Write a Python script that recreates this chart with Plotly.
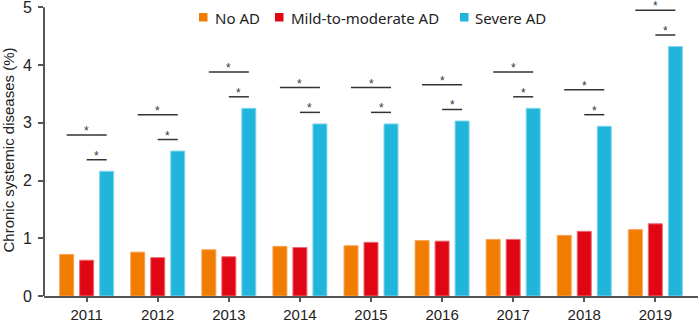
import plotly.graph_objects as go

years = ["2011", "2012", "2013", "2014", "2015", "2016", "2017", "2018", "2019"]
no_ad = [0.72, 0.76, 0.80, 0.86, 0.87, 0.96, 0.98, 1.05, 1.15]
mild_ad = [0.62, 0.665, 0.68, 0.84, 0.93, 0.95, 0.98, 1.12, 1.25]
severe_ad = [2.16, 2.51, 3.25, 2.98, 2.98, 3.03, 3.25, 2.94, 4.32]
y_ticks = [0, 1, 2, 3, 4, 5]

series = [
    ("No AD", no_ad, "#F07D00", "#F7A45A"),
    ("Mild-to-moderate AD", mild_ad, "#E10613", "#EE6A72"),
    ("Severe AD", severe_ad, "#22B5DC", "#7FD6EE"),
]

W, H = 700, 323
ML, MR, MT, MB = 44, 2, 4, 27
PW, PH = W - ML - MR, H - MT - MB
YTOP = 5.057


def px_x(px):
    return (px - ML) / PW


def px_y(py):
    return (H - MB - py) / PH


fig = go.Figure()
for name, vals, col, edge in series:
    fig.add_trace(go.Bar(
        x=years, y=vals, name=name, showlegend=False,
        marker=dict(color=col, line=dict(color=edge, width=1)),
    ))

shapes = []
annotations = []
off = 0.2816
star_font = dict(size=12, color="#333333", family="Liberation Sans")
for i, v in enumerate(severe_ad):
    long_y = v + 0.63
    short_y = v + 0.2
    shapes.append(dict(type="line", xref="x", yref="y", x0=i - off, x1=i + off,
                       y0=long_y, y1=long_y, line=dict(color="#333333", width=1.5)))
    shapes.append(dict(type="line", xref="x", yref="y", x0=i, x1=i + off,
                       y0=short_y, y1=short_y, line=dict(color="#333333", width=1.5)))
    annotations.append(dict(x=i, y=long_y, xref="x", yref="y", text="*", showarrow=False,
                            yanchor="bottom", yshift=-5, font=star_font))
    annotations.append(dict(x=i + off / 2, y=short_y, xref="x", yref="y", text="*",
                            showarrow=False, yanchor="bottom", yshift=-5, font=star_font))

# y axis line (ends at 5 like the reference)
shapes.append(dict(type="line", xref="paper", yref="y", x0=0, x1=0, y0=0, y1=5,
                   line=dict(color="#555555", width=2)))

# manual legend
legend_sq_x = [199, 275, 460]
legend_txt_x = [213, 289, 473]
for (name, vals, col, edge), sx, tx in zip(series, legend_sq_x, legend_txt_x):
    shapes.append(dict(type="rect", xref="paper", yref="paper",
                       x0=px_x(sx), x1=px_x(sx + 8.5), y0=px_y(21.5), y1=px_y(13),
                       fillcolor=col, line=dict(width=0)))
    annotations.append(dict(x=px_x(tx), y=px_y(17.5), xref="paper", yref="paper",
                            text=name, showarrow=False, xanchor="left", yanchor="middle",
                            font=dict(family="Noto Sans", size=15, color="#222222")))

fig.update_layout(
    width=W, height=H,
    margin=dict(l=ML, r=MR, t=MT, b=MB, autoexpand=False),
    paper_bgcolor="white", plot_bgcolor="white",
    barmode="group", bargap=0.156, bargroupgap=0.3,
    shapes=shapes, annotations=annotations,
    font=dict(family="Liberation Sans", color="#222222"),
    showlegend=False,
)
fig.update_xaxes(
    type="category", range=[-0.6, 8.6], automargin=False,
    showline=True, linecolor="#555555", linewidth=2,
    ticks="outside", ticklen=4, tickcolor="#555555", tickwidth=1.5,
    tickfont=dict(size=15, family="Liberation Sans", color="#222222"),
    ticklabeloverflow="allow",
    showgrid=False,
)
fig.update_yaxes(
    range=[0, YTOP], tickvals=y_ticks, automargin=False,
    showline=False,
    ticks="outside", ticklen=5, tickcolor="#555555", tickwidth=1.5,
    tickfont=dict(size=16, family="Liberation Sans", color="#222222"),
    ticklabelstandoff=3, ticklabeloverflow="allow",
    showgrid=False, zeroline=False,
    title=dict(text="Chronic systemic diseases (%)", standoff=6,
               font=dict(size=15, family="Liberation Sans", color="#222222")),
)

fig.write_html("out.html")
